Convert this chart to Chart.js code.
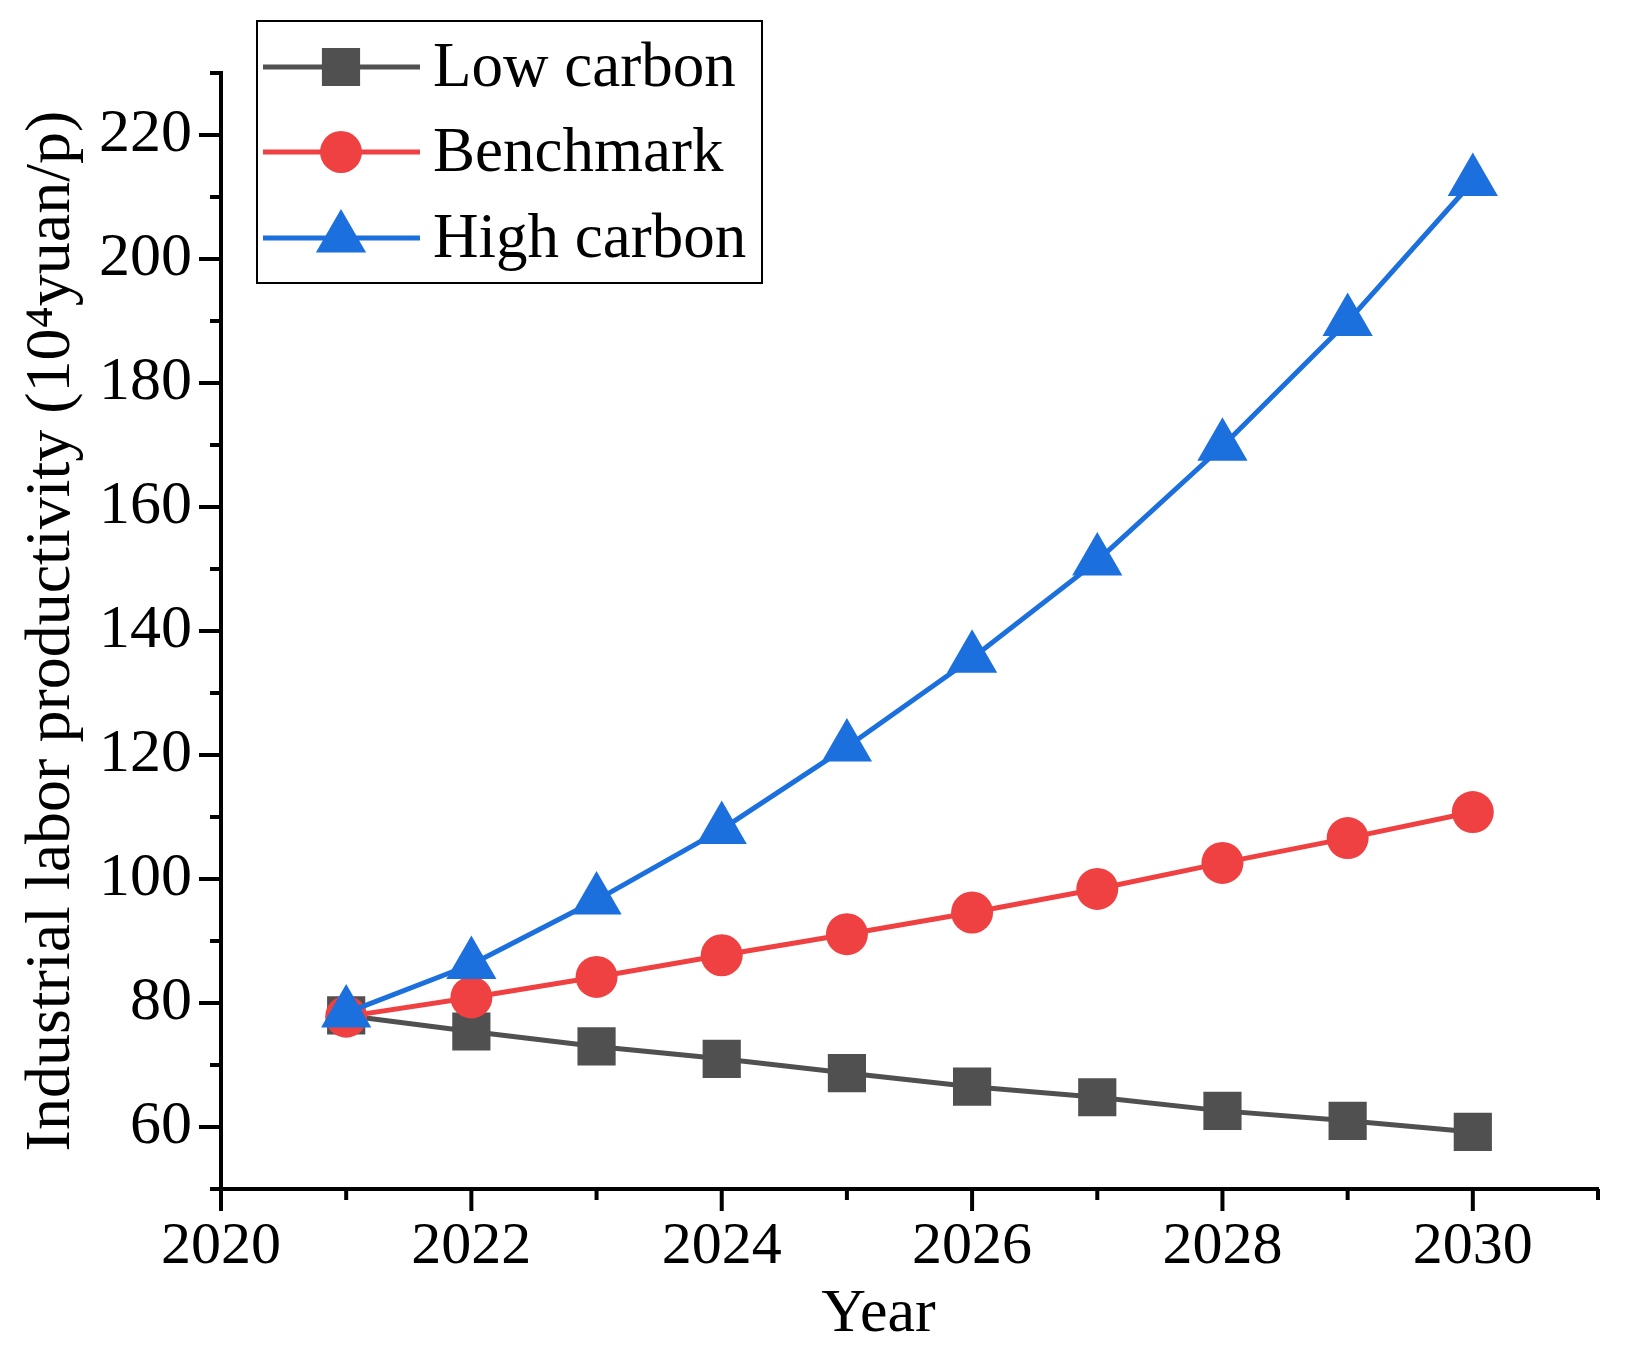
<!DOCTYPE html>
<html>
<head>
<meta charset="utf-8">
<script src="https://cdn.jsdelivr.net/npm/chart.js@4.4.0/dist/chart.umd.min.js"></script>
<style>
  html, body { margin: 0; padding: 0; background: #fff; overflow: hidden; }
  canvas { display: block; }
</style>
</head>
<body>
<canvas id="myChart" width="1627" height="1351"></canvas>
<script>
//data
const years = [2021, 2022, 2023, 2024, 2025, 2026, 2027, 2028, 2029, 2030];
const lowCarbon = [78.0, 75.4, 73.0, 71.0, 68.7, 66.5, 64.8, 62.6, 61.0, 59.2];
const benchmark = [77.8, 80.9, 84.2, 87.7, 91.1, 94.6, 98.4, 102.6, 106.6, 110.8];
const highCarbon = [78.4, 86.2, 96.6, 108.0, 121.3, 135.6, 151.3, 169.8, 189.9, 212.5];
const seriesNames = ['Low carbon', 'Benchmark', 'High carbon'];
const seriesColors = ['#505050', '#f04142', '#1b70dd'];
const seriesPoints = ['rect', 'circle', 'triangle'];

const FONT = '"Liberation Serif", "DejaVu Serif", serif';

// -------------------------------------------------------------------------
//helpers
function toPoints(values) {
  return years.map((yr, i) => ({ x: yr, y: values[i] }));
}

function drawMarker(ctx, style, x, y, r) {
  ctx.beginPath();
  if (style === 'rect') {
    const s = Math.SQRT1_2 * r;
    ctx.rect(x - s, y - s, 2 * s, 2 * s);
  } else if (style === 'circle') {
    ctx.arc(x, y, r, 0, Math.PI * 2);
  } else {
    ctx.moveTo(x, y - r);
    ctx.lineTo(x + Math.sin(Math.PI * 2 / 3) * r, y + r / 2);
    ctx.lineTo(x - Math.sin(Math.PI * 2 / 3) * r, y + r / 2);
    ctx.closePath();
  }
  ctx.fill();
}

// -------------------------------------------------------------------------
//major and minor tick marks, drawn outward from the axes
const axisTicks = {
  id: 'axisTicks',
  afterDraw(chart) {
    const ctx = chart.ctx;
    const xs = chart.scales.x;
    const ys = chart.scales.y;
    const area = chart.chartArea;
    ctx.save();
    ctx.strokeStyle = '#000';
    ctx.lineWidth = 4;
    xs.ticks.forEach(t => {
      const px = xs.getPixelForValue(t.value);
      const len = t.value % 2 === 0 ? 22 : 11;
      ctx.beginPath();
      ctx.moveTo(px, area.bottom);
      ctx.lineTo(px, area.bottom + len);
      ctx.stroke();
    });
    ys.ticks.forEach(t => {
      const py = ys.getPixelForValue(t.value);
      const len = t.value % 20 === 0 ? 22 : 11;
      ctx.beginPath();
      ctx.moveTo(area.left, py);
      ctx.lineTo(area.left - len, py);
      ctx.stroke();
    });
    ctx.restore();
  }
};

//boxed legend, line + marker for each series
const boxLegend = {
  id: 'boxLegend',
  afterDraw(chart) {
    const ctx = chart.ctx;
    const box = { x: 257, y: 21, w: 505, h: 262 };
    const rowY = [67, 152, 238];
    ctx.save();
    ctx.fillStyle = '#fff';
    ctx.fillRect(box.x, box.y, box.w, box.h);
    ctx.strokeStyle = '#000';
    ctx.lineWidth = 2;
    ctx.strokeRect(box.x, box.y, box.w, box.h);
    chart.data.datasets.slice().sort((a, b) => a.legendIndex - b.legendIndex).forEach((ds, i) => {
      const y = rowY[i];
      ctx.strokeStyle = ds.borderColor;
      ctx.lineWidth = ds.borderWidth;
      ctx.beginPath();
      ctx.moveTo(263, y);
      ctx.lineTo(420, y);
      ctx.stroke();
      ctx.fillStyle = ds.backgroundColor;
      drawMarker(ctx, ds.pointStyle, 341, y, ds.pointRadius);
      ctx.fillStyle = '#000';
      ctx.font = '63px ' + FONT;
      ctx.textBaseline = 'middle';
      ctx.textAlign = 'left';
      ctx.fillText(ds.label, 433, y + 2);
    });
    ctx.restore();
  }
};

// -------------------------------------------------------------------------
const radii = [27, 21, 29];
const allValues = [lowCarbon, benchmark, highCarbon];
const datasets = allValues.map((vals, i) => ({
  label: seriesNames[i],
  legendIndex: i,
  order: 2 - i,
  data: toPoints(vals),
  borderColor: seriesColors[i],
  backgroundColor: seriesColors[i],
  borderWidth: 5,
  pointStyle: seriesPoints[i],
  pointRadius: radii[i],
  pointHoverRadius: radii[i],
  pointBorderWidth: 0,
  tension: 0,
}));

const ctx = document.getElementById('myChart').getContext('2d');
const myChart = new Chart(ctx, {
  type: 'line',
  data: { datasets: datasets },
  options: {
    responsive: false,
    maintainAspectRatio: false,
    devicePixelRatio: 1,
    animation: false,
    layout: { padding: { left: 14, right: 18, top: 73, bottom: 0 } },
    plugins: {
      legend: { display: false },
      tooltip: { enabled: false },
    },
    scales: {
      x: {
        type: 'linear',
        min: 2020,
        max: 2031,
        afterFit: (scale) => { scale.height = 162; },
        border: { display: true, width: 4, color: '#000' },
        grid: { drawOnChartArea: false, drawTicks: true, tickLength: 28, tickColor: 'rgba(0,0,0,0)' },
        ticks: {
          stepSize: 1,
          autoSkip: false,
          maxRotation: 0,
          padding: 0,
          color: '#000',
          font: { family: FONT, size: 60, lineHeight: 1 },
          callback: (v) => (v % 2 === 0 ? String(v) : ''),
        },
        title: {
          display: true,
          text: 'Year\u2003',
          color: '#000',
          padding: { top: 0, bottom: 5 },
          font: { family: FONT, size: 62, lineHeight: 1 },
        },
      },
      y: {
        min: 50,
        max: 230,
        afterFit: (scale) => { scale.width = 207; },
        border: { display: true, width: 4, color: '#000' },
        grid: { drawOnChartArea: false, drawTicks: false },
        ticks: {
          stepSize: 10,
          autoSkip: false,
          padding: 29,
          color: '#000',
          font: { family: FONT, size: 62, lineHeight: 1 },
          callback: (v) => (v % 20 === 0 ? String(v) : ''),
        },
        title: {
          display: true,
          text: 'Industrial labor productivity (10\u2074yuan/p)',
          color: '#000',
          padding: { top: 0, bottom: 0 },
          font: { family: FONT, size: 64, lineHeight: 1.2 },
        },
      },
    },
  },
  plugins: [axisTicks, boxLegend],
});
</script>
</body>
</html>
